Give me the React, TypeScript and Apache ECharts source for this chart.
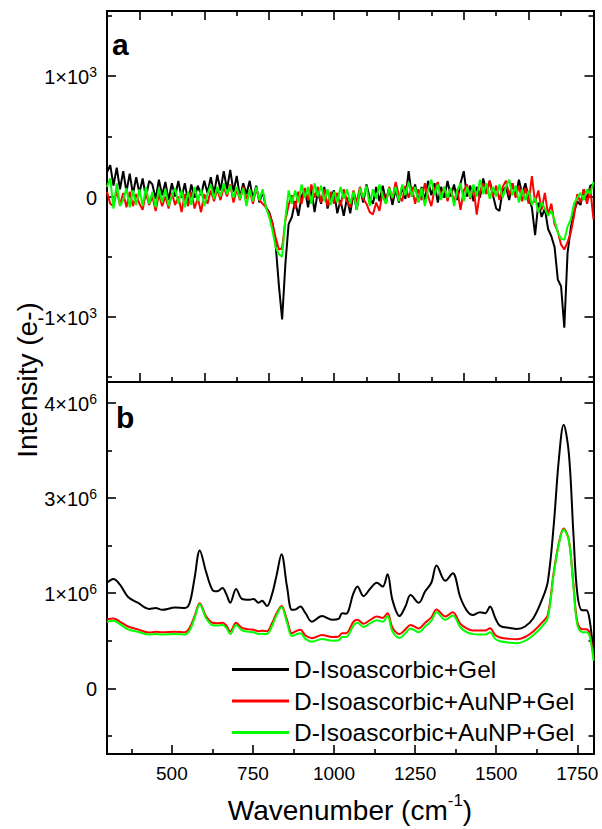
import { useEffect, useRef } from "react";
import * as echarts from "echarts";

const FONT = '"Liberation Sans", Arial, Helvetica, sans-serif';

// ---- Panel a: difference spectra (counts), every 10 cm-1 ----
const aWave = [
  300, 310, 320, 330, 340, 350, 360, 370, 380, 390, 400, 410, 420, 430, 440, 450, 460, 470, 480, 490,
  500, 510, 520, 530, 540, 550, 560, 570, 580, 590, 600, 610, 620, 630, 640, 650, 660, 670, 680, 690,
  700, 710, 720, 730, 740, 750, 760, 770, 780, 790, 800, 810, 820, 830, 840, 850, 860, 870, 880, 890,
  900, 910, 920, 930, 940, 950, 960, 970, 980, 990, 1000, 1010, 1020, 1030, 1040, 1050, 1060, 1070, 1080, 1090,
  1100, 1110, 1120, 1130, 1140, 1150, 1160, 1170, 1180, 1190, 1200, 1210, 1220, 1230, 1240, 1250, 1260, 1270, 1280, 1290,
  1300, 1310, 1320, 1330, 1340, 1350, 1360, 1370, 1380, 1390, 1400, 1410, 1420, 1430, 1440, 1450, 1460, 1470, 1480, 1490,
  1500, 1510, 1520, 1530, 1540, 1550, 1560, 1570, 1580, 1590, 1600, 1610, 1620, 1630, 1640, 1650, 1660, 1670, 1680, 1690,
  1700, 1710, 1720, 1730, 1740, 1750, 1760, 1770, 1780, 1790, 1800,
];
const aGel = [
  200, 260, 90, 240, 60, 210, 40, 190, 20, 160, 30, 150, -10, 130, 100, -20, 140, 10, 120, -30,
  110, 0, 130, -10, 110, -40, 100, -10, 90, 10, 130, 30, 160, 20, 180, 50, 210, 60, 220, 40,
  170, -10, 110, 20, 130, -20, 90, -50, 40, -90, -130, -220, -400, -740, -1020, -560, -230, -170, -40, -160,
  0, 60, -90, 70, -130, 40, -60, 80, -100, 0, 50, -140, -30, -160, -10, -140, 30, -110, 70, -50,
  100, -10, -60, 80, -40, 90, -30, 70, -70, 60, -50, 80, -20, 210, 0, 100, -40, 80, -30, 130,
  10, 110, -50, 80, -10, 130, 0, 100, -30, 110, 210, 0, 90, -40, 80, -10, 150, 30, 130, 10,
  -100, -120, 50, 80, -30, 110, 0, 140, 20, 110, -10, -90, -320, -50, -170, -100, -270, -330, -420, -690,
  -745, -1090, -470, -260, -130, -40, -70, 60, -30, 90, 100,
];
const aAuNP1 = [
  40, -60, -80, 50, -70, 30, -90, 40, -80, 20, -60, -110, 30, -70, 0, -120, 20, -80, 0, -100,
  30, -70, 0, -130, 20, -80, 40, -100, -10, -130, 20, -60, 50, -40, 60, -30, 80, 0, 100, -50,
  60, -30, 80, -20, 50, -60, 70, -30, -60, -90, -140, -220, -340, -440, -430, -200, -70, 10, -100, 40,
  -60, 70, -30, 100, -10, 80, -50, 60, -80, 40, -60, 30, -80, 60, -40, -90, 50, -50, 80, -20,
  -60, -130, -150, -50, -120, 40, -60, 80, -20, 120, 10, -40, 90, -10, 80, -60, 60, -30, 110, 0,
  -80, 60, 120, -10, 80, -40, 70, -50, 60, -110, 50, 100, -20, 80, -150, 40, 110, 20, 130, 0,
  90, -30, 80, 130, 10, 110, -10, 90, -40, 70, -60, 170, -50, 50, -110, 30, -150, -60, -230, -290,
  -400, -440, -380, -300, -160, 20, -50, 60, -60, 70, -190,
];
const aAuNP2 = [
  80, 150, -100, 110, -80, -30, 70, -90, 50, -70, 60, -80, 80, -60, 40, -90, 70, -50, 60, -80,
  10, 70, -60, 50, -90, 40, -70, 80, -40, 60, -80, 20, 100, -20, 80, 0, 110, 20, 90, -10,
  80, -20, 70, -80, 60, -40, 80, -30, 60, -90, -170, -280, -420, -480, -500, -180, 50, -60, 50, -50,
  100, -10, 80, -60, 110, 0, 90, -40, 60, -70, 40, -50, 80, -20, 60, -60, 40, -110, 70, -10,
  90, -80, 60, -20, 100, 0, -60, 70, -10, 80, -40, 100, 10, 120, 0, 80, -50, 70, -80, 60,
  140, 10, 100, -30, 80, -10, 70, -80, 50, 110, -40, 80, -10, 100, 0, 140, 20, 110, -20, 80,
  0, 100, -10, 80, 140, 10, 90, -50, 60, -30, 50, -70, -10, -130, -50, -100, -160, -120, -200, -300,
  -350, -360, -250, -190, -60, -10, 30, -30, 60, 20, 120,
];

// ---- Panel b: measured spectra, in units of the labelled tick steps ----
const bWave = [
  300, 320, 340, 365, 395, 430, 450, 470, 510, 540, 555, 570, 586, 605, 625, 640, 656, 668, 680, 698,
  716, 737, 752, 767, 778, 793, 808, 823, 838, 855, 870, 882, 896, 912, 932, 963, 994, 1014, 1025, 1037,
  1060, 1072, 1091, 1112, 1132, 1150, 1165, 1180, 1202, 1220, 1236, 1261, 1281, 1300, 1316, 1343, 1366, 1389, 1409, 1428,
  1450, 1466, 1481, 1497, 1512, 1543, 1563, 1589, 1615, 1641, 1659, 1677, 1693, 1708, 1724, 1738, 1750, 1765, 1778, 1788,
  1800,
];
const bGel = [
  1.11, 1.15, 1.09, 0.96, 0.9, 0.835, 0.845, 0.825, 0.85, 0.845, 0.9, 1.16, 1.45, 1.23, 1.035, 1.02, 1.055, 0.99, 0.9, 1.045,
  0.94, 0.93, 0.94, 0.9, 0.92, 0.865, 0.98, 1.19, 1.41, 1.07, 0.825, 0.83, 0.86, 0.79, 0.7, 0.76, 0.72, 0.73, 0.79, 0.785,
  1.0, 1.07, 0.97, 1.05, 1.11, 1.07, 1.2, 0.93, 0.76, 0.86, 0.98, 0.9, 1.02, 1.11, 1.29, 1.13, 1.21, 0.96, 0.82, 0.77,
  0.8, 0.79, 0.86, 0.74, 0.656, 0.635, 0.625, 0.65, 0.74, 0.93, 1.12, 1.7, 2.4, 2.77, 2.47, 1.63, 1.0, 0.82, 0.82, 0.72,
  0.37,
];
const bAuNP1 = [
  0.727, 0.735, 0.7, 0.65, 0.62, 0.586, 0.595, 0.59, 0.595, 0.59, 0.64, 0.76, 0.895, 0.76, 0.69, 0.685, 0.69, 0.66, 0.597, 0.69,
  0.635, 0.62, 0.615, 0.6, 0.605, 0.6, 0.68, 0.79, 0.866, 0.72, 0.58, 0.6, 0.615, 0.555, 0.527, 0.56, 0.54, 0.545, 0.58, 0.58,
  0.7, 0.72, 0.68, 0.72, 0.755, 0.74, 0.79, 0.64, 0.57, 0.62, 0.667, 0.63, 0.69, 0.745, 0.83, 0.755, 0.8, 0.68, 0.63, 0.607,
  0.607, 0.607, 0.632, 0.56, 0.535, 0.52, 0.516, 0.54, 0.6, 0.69, 0.77, 1.21, 1.525, 1.68, 1.56, 1.1, 0.7, 0.62, 0.62, 0.58,
  0.334,
];
const bAuNP2 = [
  0.7, 0.71, 0.675, 0.62, 0.595, 0.565, 0.57, 0.565, 0.57, 0.565, 0.61, 0.74, 0.885, 0.74, 0.665, 0.66, 0.665, 0.635, 0.57, 0.665,
  0.61, 0.595, 0.59, 0.57, 0.575, 0.57, 0.65, 0.77, 0.855, 0.69, 0.55, 0.565, 0.58, 0.52, 0.49, 0.52, 0.5, 0.505, 0.54, 0.54,
  0.66, 0.69, 0.645, 0.685, 0.715, 0.7, 0.76, 0.6, 0.53, 0.58, 0.63, 0.59, 0.65, 0.71, 0.8, 0.72, 0.765, 0.645, 0.59, 0.57,
  0.565, 0.565, 0.59, 0.52, 0.495, 0.48, 0.475, 0.5, 0.56, 0.65, 0.74, 1.19, 1.51, 1.67, 1.55, 1.07, 0.67, 0.59, 0.59, 0.55,
  0.29,
];

// ---- Ticks and labels ----
const aTickValues = [-1000, 0, 1000];
const aTickText = [["-1×10", "3"], ["0", ""], ["1×10", "3"]];
const aMinorTicks = [-1500, -500, 500, 1500];
const bTickValues = [0, 1, 2, 3];
const bTickText = [["0", ""], ["1×10", "6"], ["3×10", "6"], ["4×10", "6"]];
const bMinorTicks = [-0.5, 0.5, 1.5, 2.5];
const aXMajor = [400, 600, 800, 1000, 1200, 1400, 1600, 1800];
const aXMinor = [500, 700, 900, 1100, 1300, 1500, 1700];
const bXMajor = [500, 750, 1000, 1250, 1500, 1750];
const bXMinor = [375, 625, 875, 1125, 1375, 1625];

const seriesKeys = ["gel", "aunp1", "aunp2"];
const legendLabels = ["D-Isoascorbic+Gel", "D-Isoascorbic+AuNP+Gel", "D-Isoascorbic+AuNP+Gel"];
const colors = ["#000000", "#ff0000", "#00ff00"];

const X_MIN = 300;
const X_MAX = 1800;
const A_MIN = -1540;
const A_MAX = 1540;
const B_MIN = -0.69;
const B_MAX = 3.22;

const pair = (xs: number[], ys: number[]) => xs.map((x, i) => [x, ys[i]]);

const supLabel = (values: number[], text: string[][]) => (v: number) => {
  const i = values.findIndex((t) => Math.abs(t - v) < 1e-9);
  if (i < 0) return "";
  const [base, sup] = text[i];
  return sup ? `{n|${base}}{s|${sup}}` : `{n|${base}}`;
};

const labelRich = {
  n: { fontSize: 20, fontFamily: FONT, color: "#000", lineHeight: 22, verticalAlign: "bottom" },
  s: { fontSize: 14, fontFamily: FONT, color: "#000", lineHeight: 14, verticalAlign: "top" },
};

const LINE = { show: true, lineStyle: { color: "#000", width: 2 } };

function tickAxis(
  grid: number,
  position: string,
  min: number,
  max: number,
  ticks: number[],
  len: number,
  label?: { values: number[]; formatter: (v: number) => string; margin: number; rich?: object }
) {
  return {
    type: "value",
    gridIndex: grid,
    position,
    min,
    max,
    axisLine: { ...LINE, onZero: false },
    splitLine: { show: false },
    axisTick: {
      show: ticks.length > 0,
      inside: true,
      length: len,
      customValues: ticks,
      lineStyle: { color: "#000", width: 1.6 },
    },
    axisLabel: label
      ? {
          show: true,
          customValues: label.values,
          formatter: label.formatter,
          margin: label.margin,
          color: "#000",
          fontSize: 19,
          fontFamily: FONT,
          rich: label.rich,
        }
      : { show: false },
  };
}

export default function App() {
  const ref = useRef<HTMLDivElement>(null);

  useEffect(() => {
    if (!ref.current) return;
    const chart = echarts.init(ref.current, undefined, { renderer: "svg" });

    const xAxis = [
      tickAxis(0, "bottom", X_MIN, X_MAX, aXMajor, 9),
      tickAxis(0, "bottom", X_MIN, X_MAX, aXMinor, 5),
      tickAxis(0, "top", X_MIN, X_MAX, aXMajor, 9),
      tickAxis(0, "top", X_MIN, X_MAX, aXMinor, 5),
      tickAxis(1, "bottom", X_MIN, X_MAX, bXMajor, 9, {
        values: bXMajor,
        formatter: (v: number) => String(v),
        margin: 10,
      }),
      tickAxis(1, "bottom", X_MIN, X_MAX, bXMinor, 5),
      tickAxis(1, "top", X_MIN, X_MAX, [], 0),
    ];

    const yAxis = [
      tickAxis(0, "left", A_MIN, A_MAX, aTickValues, 9, {
        values: aTickValues,
        formatter: supLabel(aTickValues, aTickText),
        margin: 10,
        rich: labelRich,
      }),
      tickAxis(0, "left", A_MIN, A_MAX, aMinorTicks, 5),
      tickAxis(0, "right", A_MIN, A_MAX, aTickValues, 9),
      tickAxis(0, "right", A_MIN, A_MAX, aMinorTicks, 5),
      tickAxis(1, "left", B_MIN, B_MAX, bTickValues, 9, {
        values: bTickValues,
        formatter: supLabel(bTickValues, bTickText),
        margin: 10,
        rich: labelRich,
      }),
      tickAxis(1, "left", B_MIN, B_MAX, bMinorTicks, 5),
      tickAxis(1, "right", B_MIN, B_MAX, bTickValues, 9),
      tickAxis(1, "right", B_MIN, B_MAX, bMinorTicks, 5),
    ];

    const aData = [aGel, aAuNP1, aAuNP2];
    const bData = [bGel, bAuNP1, bAuNP2];

    const series: any[] = [];
    seriesKeys.forEach((key, i) => {
      series.push({
        type: "line",
        name: "a-" + key,
        xAxisIndex: 0,
        yAxisIndex: 0,
        data: pair(aWave, aData[i]),
        showSymbol: false,
        symbol: "none",
        lineStyle: { color: colors[i], width: 2 },
        itemStyle: { color: colors[i] },
        z: 2 + i,
      });
    });
    seriesKeys.forEach((key, i) => {
      series.push({
        type: "line",
        name: key,
        xAxisIndex: 4,
        yAxisIndex: 4,
        data: pair(bWave, bData[i]),
        showSymbol: false,
        symbol: "none",
        smooth: 0.35,
        lineStyle: { color: colors[i], width: 2 },
        itemStyle: { color: colors[i] },
        z: 2 + i,
      });
    });

    chart.setOption({
      animation: false,
      backgroundColor: "#ffffff",
      grid: [
        { left: 107, right: 8.5, top: 11, height: 371, outerBoundsMode: "none" },
        { left: 107, right: 8.5, top: 382, height: 372, outerBoundsMode: "none" },
      ],
      xAxis,
      yAxis,
      legend: {
        orient: "vertical",
        left: 232,
        top: 657,
        padding: 0,
        icon: "rect",
        itemWidth: 57,
        itemHeight: 3,
        itemGap: 6.5,
        selectedMode: false,
        data: seriesKeys,
        formatter: (name: string) => legendLabels[seriesKeys.indexOf(name)],
        textStyle: { fontSize: 24.5, fontFamily: FONT, color: "#000", lineHeight: 24 },
      },
      graphic: [
        {
          type: "text",
          left: 112,
          top: 29,
          style: { text: "a", font: `bold 30px ${FONT}`, fill: "#000" },
        },
        {
          type: "text",
          left: 116,
          top: 402,
          style: { text: "b", font: `bold 30px ${FONT}`, fill: "#000" },
        },
        {
          type: "text",
          x: 27,
          y: 380,
          rotation: Math.PI / 2,
          style: {
            text: "Intensity (e-)",
            font: `28px ${FONT}`,
            fill: "#000",
            align: "center",
            verticalAlign: "middle",
          },
        },
        {
          type: "text",
          x: 350,
          y: 808,
          style: {
            text: "{t|Wavenumber (cm}{s|-1}{t|)}",
            align: "center",
            verticalAlign: "middle",
            rich: {
              t: { fontSize: 28, fontFamily: FONT, fill: "#000", lineHeight: 32, verticalAlign: "bottom" },
              s: { fontSize: 17, fontFamily: FONT, fill: "#000", lineHeight: 18, verticalAlign: "top" },
            },
          },
        },
      ],
      series,
    });

    return () => chart.dispose();
  }, []);

  return (
    <div
      ref={ref}
      style={{ position: "fixed", left: 0, top: 0, width: 602, height: 829, background: "#fff" }}
    />
  );
}
